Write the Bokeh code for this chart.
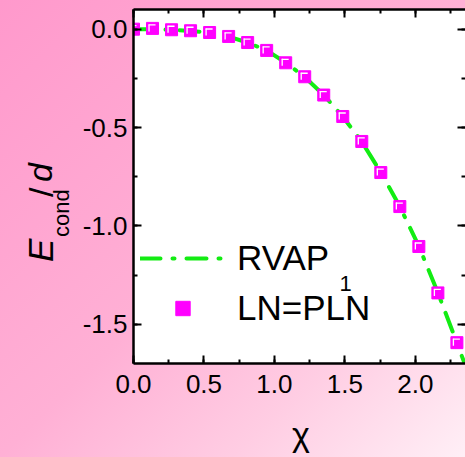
import math
from bokeh.plotting import figure
from bokeh.layouts import row, column
from bokeh.models import (Range1d, LinearAxis, Label, Legend, LegendItem, Div,
                          NumeralTickFormatter, SingleIntervalTicker, ColumnDataSource,
                          CustomLabelingPolicy)
from bokeh.embed import file_html
from bokeh.resources import INLINE

# ---- data ----
chi_pts = [0.0, 0.135, 0.27, 0.405, 0.54, 0.675, 0.81, 0.945, 1.08, 1.215,
           1.35, 1.485, 1.62, 1.755, 1.89, 2.025, 2.16, 2.295]
e_pts = [0.0, 0.004, -0.003, -0.008, -0.017, -0.037, -0.068, -0.108, -0.171, -0.242,
         -0.335, -0.444, -0.571, -0.729, -0.902, -1.105, -1.341, -1.594]

chi_curve = [0.0, 0.135, 0.27, 0.405, 0.54, 0.675, 0.81, 0.945, 1.08, 1.215,
             1.35, 1.485, 1.62, 1.755, 1.89, 2.025, 2.16, 2.295, 2.36]
e_curve = [0.0, 0.0, -0.003, -0.009, -0.018, -0.038, -0.068, -0.108, -0.170, -0.243,
           -0.335, -0.445, -0.572, -0.728, -0.902, -1.104, -1.340, -1.595, -1.72]

series_names = ["RVAP", "LN=PLN"]
legend_sub = "1"
x_label = "χ"
y_label_parts = ["E", "cond", "/", "d"]

X0, X1 = 0.0, 2.356
Y0, Y1 = -1.7, 0.1

FONT = "Liberation Sans"
GREEN = "#13ec13"
MAGENTA = "#ff00ff"

W, H = 465, 457
DW = 75                       # width of the y-title strip
XH = 45                       # height of the x-title strip
PH = H - XH                   # height of the figure
FRAME_L = 133                 # page x of the frame's left edge
FRAME_B = 363                 # page y of the frame's bottom edge
BL, BR, BT, BB = FRAME_L - DW, 0, 9, PH - FRAME_B
PW = W - DW
FW, FH = W - FRAME_L - BR, FRAME_B - BT
kx = (X1 - X0) / FW
ky = (Y1 - Y0) / FH


def dx(sx):
    return X0 + (sx - FRAME_L) * kx


def dy(sy):
    return Y1 - (sy - BT) * ky


p = figure(width=PW, height=PH, output_backend="svg", toolbar_location=None,
           x_range=Range1d(X0, X1), y_range=Range1d(Y0, Y1),
           x_axis_location=None, y_axis_location=None,
           min_border_left=BL, min_border_right=BR, min_border_top=BT, min_border_bottom=BB)
p.background_fill_color = "white"
p.border_fill_alpha = 0.0
p.outline_line_color = None
for g in p.xgrid + p.ygrid:
    g.visible = False

hide_all = CustomLabelingPolicy(code="for (const i of [...indices]) indices.unset(i); return indices")


def style_axis(ax, labels):
    ax.axis_line_width = 2.5
    ax.axis_line_color = "black"
    ax.major_tick_in = 8
    ax.major_tick_out = 0
    ax.minor_tick_in = 4
    ax.minor_tick_out = 0
    ax.major_tick_line_width = 2
    ax.minor_tick_line_width = 2
    ax.major_label_text_font = FONT
    ax.major_label_text_color = "black"
    if labels:
        ax.major_label_text_font_size = "26px"
        ax.formatter = NumeralTickFormatter(format="0.0")
    else:
        ax.major_label_text_font_size = "0px"
        ax.major_label_standoff = 0
        ax.major_label_policy = hide_all


bottom = LinearAxis(ticker=SingleIntervalTicker(interval=0.5, num_minor_ticks=2))
style_axis(bottom, True)
bottom.major_label_standoff = 11
p.add_layout(bottom, "below")

left = LinearAxis(ticker=SingleIntervalTicker(interval=0.5, num_minor_ticks=2))
style_axis(left, True)
left.major_label_standoff = 6
p.add_layout(left, "left")

top = LinearAxis(ticker=SingleIntervalTicker(interval=0.5, num_minor_ticks=2))
style_axis(top, False)
p.add_layout(top, "above")

right = LinearAxis(ticker=SingleIntervalTicker(interval=0.5, num_minor_ticks=2))
style_axis(right, False)
right.axis_line_color = None
p.add_layout(right, "right")

# curve
line_r = p.line(chi_curve, e_curve, line_color=GREEN, line_width=4,
                line_dash="20 12 2 12", line_cap="round")

# squares
src = ColumnDataSource(dict(x=chi_pts, y=e_pts))
sq_r = p.scatter("x", "y", source=src, marker="square", size=12,
                 fill_color=MAGENTA, line_color=MAGENTA, line_width=1)

# white highlight inside each square, via pixel-shifted ranges
p.extra_x_ranges = {
    "hx_h": Range1d(X0 + 0.5 * kx, X1 + 0.5 * kx),
    "hx_v": Range1d(X0 + 3.5 * kx, X1 + 3.5 * kx),
}
p.extra_y_ranges = {
    "hy_h": Range1d(Y0 - 3.5 * ky, Y1 - 3.5 * ky),
    "hy_v": Range1d(Y0 - 0.5 * ky, Y1 - 0.5 * ky),
}
p.rect("x", "y", source=src, width=7, height=1.3, width_units="screen", height_units="screen",
       fill_color="white", line_color=None, x_range_name="hx_h", y_range_name="hy_h")
p.rect("x", "y", source=src, width=1.3, height=7, width_units="screen", height_units="screen",
       fill_color="white", line_color=None, x_range_name="hx_v", y_range_name="hy_v")

legend = Legend(items=[LegendItem(label=series_names[0], renderers=[line_r]),
                       LegendItem(label=series_names[1], renderers=[sq_r])],
                location=(7, 35), orientation="vertical")
legend.glyph_width = 85
legend.glyph_height = 36
legend.label_height = 36
legend.spacing = 10
legend.label_standoff = 12
legend.padding = 0
legend.margin = 0
legend.border_line_color = None
legend.background_fill_alpha = 0.0
legend.label_text_font = FONT
legend.label_text_font_size = "35px"
legend.label_text_color = "black"
p.add_layout(legend, "center")

# subscript of the legend label (inside the frame)
p.add_layout(Label(x=dx(339), y=dy(290), text=legend_sub,
                   text_font=FONT, text_font_size="22px", text_color="black",
                   text_baseline="bottom", text_align="left"))


# y-axis title E_cond/d as rotated HTML text in a strip left of the figure
def piece(text, bx, sy, fs, italic):
    left_px = bx - 0.8465 * fs
    style = ("position:absolute;left:%.1fpx;top:%.1fpx;transform-origin:0 0;"
             "transform:rotate(-90deg);font-family:'%s';font-size:%dpx;line-height:%dpx;"
             "font-style:%s;white-space:nowrap;color:black;margin:0;padding:0;"
             % (left_px, sy, FONT, fs, fs, "italic" if italic else "normal"))
    return '<span style="%s">%s</span>' % (style, text)


html_y = ('<div style="position:relative;width:%dpx;height:%dpx;margin:0;padding:0;">' % (DW, PH)
          + piece(y_label_parts[0], 53, 262, 35, True)
          + piece(y_label_parts[1], 70, 237, 22, False)
          + piece(y_label_parts[2], 53, 197, 34, False)
          + piece(y_label_parts[3], 52, 182, 34, True)
          + '</div>')
ytitle = Div(text=html_y, width=DW, height=PH, margin=0)

# x-axis title chi in a strip below the figure
html_x = ('<div style="position:relative;width:%dpx;height:%dpx;margin:0;padding:0;">' % (W, XH)
          + '<span style="position:absolute;left:301px;top:5px;transform:translateX(-50%%);'
            "font-family:'%s';font-size:34px;line-height:34px;white-space:nowrap;color:black;\">%s</span>"
            % (FONT, x_label)
          + '</div>')
xtitle = Div(text=html_x, width=W, height=XH, margin=0)

layout = column(row(ytitle, p, spacing=0), xtitle, spacing=0,
                styles={"background": "linear-gradient(to bottom right, #ff99cc 0%, #ffb0d5 50%, "
                                      "#ffcde3 75%, #ffeff6 100%)"})

open("out.html", "w").write(file_html(layout, INLINE))
